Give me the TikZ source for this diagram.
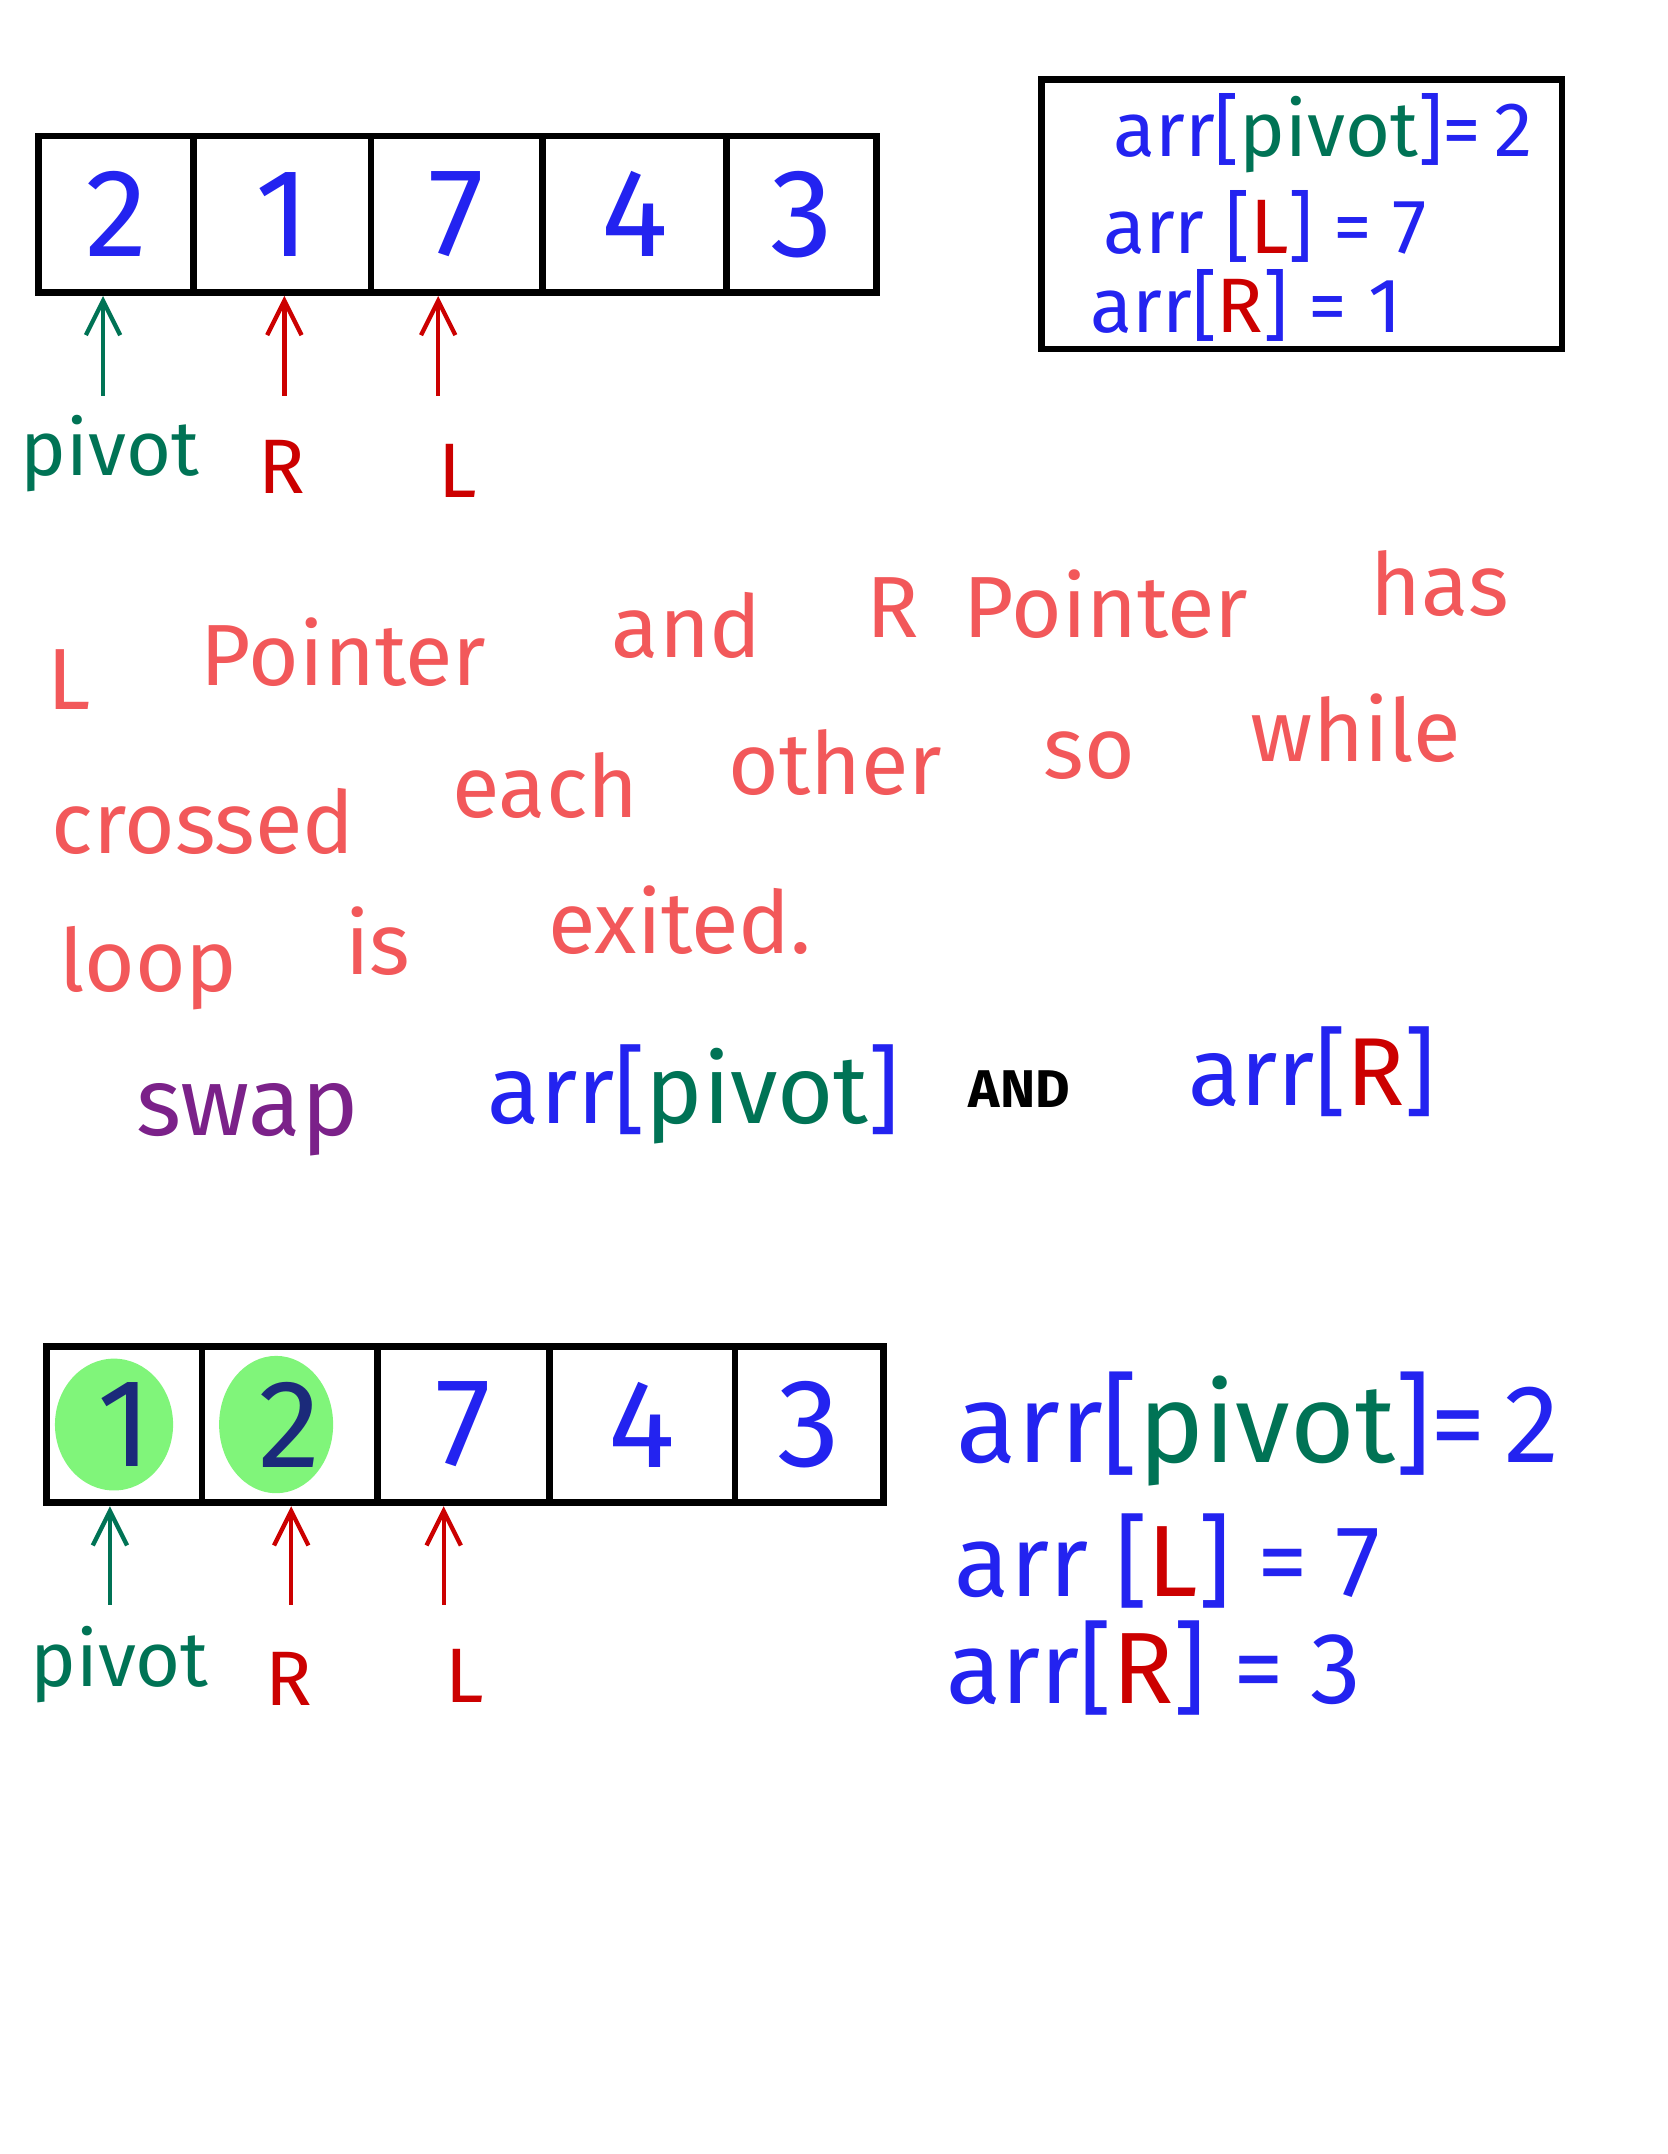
\documentclass[tikz,border=0pt]{standalone}
\usepackage{fontspec}
\setmainfont{Fira Sans}
\usetikzlibrary{positioning, arrows.meta, shapes.geometric}
\definecolor{arrblue}{RGB}{35,35,240}
\definecolor{pivgreen}{RGB}{0,115,85}
\definecolor{ptrred}{RGB}{204,0,0}
\definecolor{notered}{RGB}{242,88,90}
\definecolor{swappurple}{RGB}{123,33,137}
\definecolor{blobgreen}{RGB}{128,245,122}
\definecolor{darknavy}{RGB}{27,42,122}

\begin{document}
\begin{tikzpicture}[x=0.02cm, y=-0.02cm,
    cell/.style ={draw, line width=2.8pt, minimum height=2.28cm, inner sep=0pt,
                  text=arrblue, font=\fontsize{52}{56}\selectfont},
    blob/.style ={ellipse, fill=blobgreen, inner sep=0pt},
    ptr/.style  ={-{Straight Barb[length=0.5cm, width=0.5cm]}, line width=1.8pt},
    ptrlabel/.style ={font=\fontsize{32}{36}\selectfont, inner sep=0pt},
    note/.style ={text=notered, font=\fontsize{36}{40}\selectfont, inner sep=0pt},
    eqsmall/.style ={text=arrblue, font=\fontsize{32}{36}\selectfont, inner sep=0pt},
    eqbig/.style ={text=arrblue, font=\fontsize{42}{46}\selectfont, inner sep=0pt},
    swapword/.style ={font=\fontsize{40}{44}\selectfont, inner sep=0pt}]

    \useasboundingbox (0,0) rectangle (1214,1568);

    % array before the swap
    \node[cell, minimum width=2.26cm] (t1) at (84.5,156) {2};
    \node[cell, minimum width=2.58cm] (t2) at (205.5,156) {1};
    \node[cell, minimum width=2.50cm] (t3) at (332.5,156) {7};
    \node[cell, minimum width=2.68cm] (t4) at (462,156) {4};
    \node[cell, minimum width=2.18cm] (t5) at (583.5,156) {3};

    \coordinate (tp) at (75,288);
    \coordinate (tr) at (207,288);
    \coordinate (tl) at (319,288);
    \draw[ptr, pivgreen] (tp) -- (tp |- t1.south);
    \draw[ptr, ptrred] (tr) -- (tr |- t2.south);
    \draw[ptr, ptrred] (tl) -- (tl |- t3.south);
    \node[ptrlabel, text=pivgreen] (tpl) at (80,330) {pivot};
    \node[ptrlabel, text=ptrred] (trl) at (205,340) {R};
    \node[ptrlabel, text=ptrred] (tll) at (333,343) {L};

    % values box
    \draw[line width=2.8pt] (758,58) rectangle (1137,254);
    \node[eqsmall] (tv1) at (963,97) {arr[{\color{pivgreen}pivot}]=\,2};
    \node[eqsmall] (tv2) at (921,165) {arr [{\color{ptrred}L}] = 7};
    \node[eqsmall] (tv3) at (907,222) {arr[{\color{ptrred}R}] = 1};

    % explanation
    \node[note] (w1) at (50,495) {L};
    \node[note] (w2) at (250,475) {Pointer};
    \node[note] (w3) at (500,455) {and};
    \node[note] (w4) at (650,442) {R};
    \node[note] (w5) at (805,440) {Pointer};
    \node[note] (w6) at (1048,425) {has};
    \node[note] (w7) at (148,598) {crossed};
    \node[note] (w8) at (397,572) {each};
    \node[note] (w9) at (608,555) {other};
    \node[note] (w10) at (793,550) {so};
    \node[note] (w11) at (987,530) {while};
    \node[note] (w12) at (108,705) {loop};
    \node[note] (w13) at (275,685) {is};
    \node[note] (w14) at (495,670) {exited.};

    \node[swapword, text=swappurple] (s1) at (180,815) {swap};
    \node[swapword, text=arrblue] (s2) at (505,797) {arr[{\color{pivgreen}pivot}]};
    \node[swapword, font=\bfseries\fontsize{22}{26}\selectfont] (s3) at (742,793) {AND};
    \node[swapword, text=arrblue] (s4) at (955,780) {arr[{\color{ptrred}R}]};

    % array after the swap
    \node[blob, minimum width=1.72cm, minimum height=1.92cm] (g1) at (83,1037) {};
    \node[blob, minimum width=1.66cm, minimum height=2.0cm] (g2) at (201,1037) {};
    \node[cell, minimum width=2.26cm] (b1) at (90.5,1037) {\color{darknavy}1};
    \node[cell, minimum width=2.56cm] (b2) at (211,1037) {\color{darknavy}2};
    \node[cell, minimum width=2.50cm] (b3) at (337.5,1037) {7};
    \node[cell, minimum width=2.70cm] (b4) at (467.5,1037) {4};
    \node[cell, minimum width=2.16cm] (b5) at (589,1037) {3};

    \coordinate (bp) at (80,1168);
    \coordinate (br) at (212,1168);
    \coordinate (bl) at (323,1168);
    \draw[ptr, pivgreen] (bp) -- (bp |- b1.south);
    \draw[ptr, ptrred] (br) -- (br |- b2.south);
    \draw[ptr, ptrred] (bl) -- (bl |- b3.south);
    \node[ptrlabel, text=pivgreen] (bpl) at (87,1212) {pivot};
    \node[ptrlabel, text=ptrred] (brl) at (210,1222) {R};
    \node[ptrlabel, text=ptrred] (bll) at (338,1220) {L};

    \node[eqbig, font=\fontsize{46}{50}\selectfont] (bv1) at (916,1040) {arr[{\color{pivgreen}pivot}]=\,2};
    \node[eqbig] (bv2) at (850,1136) {arr [{\color{ptrred}L}] = 7};
    \node[eqbig] (bv3) at (840,1214) {arr[{\color{ptrred}R}] = 3};
\end{tikzpicture}
\end{document}
